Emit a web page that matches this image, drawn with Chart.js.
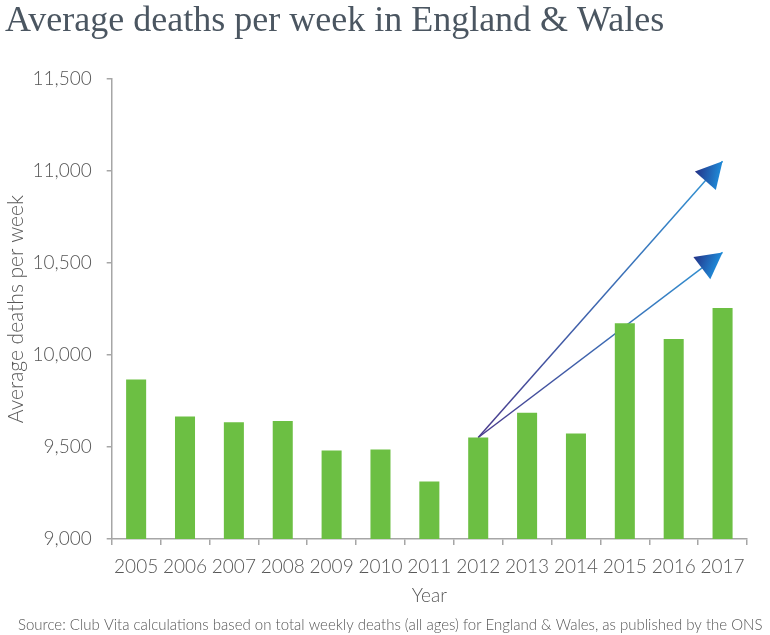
<!DOCTYPE html>
<html>
<head>
<meta charset="utf-8">
<script src="https://cdn.jsdelivr.net/npm/chart.js@4.4.1/dist/chart.umd.min.js"></script>
<style>
  html, body { margin: 0; padding: 0; background: #ffffff; }
  #wrap { width: 770px; height: 635px; }
</style>
</head>
<body>
<div id="wrap"><canvas id="c" width="770" height="635"></canvas></div>
<script>
// ---- Data ----
const years = ['2005','2006','2007','2008','2009','2010','2011','2012','2013','2014','2015','2016','2017'];
const avgDeaths = [9867, 9666, 9635, 9641, 9481, 9487, 9313, 9552, 9686, 9574, 10173, 10088, 10256];
// Projection arrows (from 2012 to 2017)
const upperArrow = [null, null, null, null, null, null, null, 9552, null, null, null, null, 11054];
const lowerArrow = [null, null, null, null, null, null, null, 9552, null, null, null, null, 10558];
const yTicks = [9000, 9500, 10000, 10500, 11000, 11500];

const titleText = 'Average deaths per week in England & Wales';
const sourceText = 'Source: Club Vita calculations based on total weekly deaths (all ages) for England & Wales, as published by the ONS';
const yTitle = 'Average deaths per week';
const xTitle = 'Year';

const TEXT = '#575757';
const AXIS = '#a6a6a6';
const SANS = 'Lato, "Open Sans", sans-serif';

function endPixels(chart, data) {
  const xs = chart.scales.x, ys = chart.scales.y;
  if (!xs || !ys) return null;
  const idx = [];
  data.forEach((v, i) => { if (v !== null) idx.push(i); });
  if (idx.length < 2) return null;
  const i0 = idx[0], i1 = idx[idx.length - 1];
  const a = { x: xs.getPixelForValue(i0), y: ys.getPixelForValue(data[i0]) };
  const b = { x: xs.getPixelForValue(i1), y: ys.getPixelForValue(data[i1]) };
  if (![a.x, a.y, b.x, b.y].every(Number.isFinite)) return null;
  return [a, b];
}

function lineGradient(ctx) {
  const chart = ctx.chart;
  const ds = chart.data.datasets[ctx.datasetIndex];
  const e = endPixels(chart, ds.data);
  if (!e) return '#3a6fb8';
  const g = chart.ctx.createLinearGradient(e[0].x, e[0].y, e[1].x, e[1].y);
  g.addColorStop(0, '#4a3a8c');
  g.addColorStop(1, '#2f95d5');
  return g;
}

const arrowHeads = {
  id: 'arrowHeads',
  afterDatasetsDraw(chart) {
    const ctx = chart.ctx;
    chart.data.datasets.forEach((ds) => {
      if (!ds.isArrow) return;
      const e = endPixels(chart, ds.data);
      if (!e) return;
      const p0 = e[0], p1 = e[1];
      const ang = Math.atan2(p1.y - p0.y, p1.x - p0.x);
      const L = 26, W = 14;
      const bx = p1.x - L * Math.cos(ang), by = p1.y - L * Math.sin(ang);
      const lx = bx + W * Math.sin(ang), ly = by - W * Math.cos(ang);
      const rx = bx - W * Math.sin(ang), ry = by + W * Math.cos(ang);
      const g = ctx.createLinearGradient(lx, ly, (p1.x + rx) / 2, (p1.y + ry) / 2);
      g.addColorStop(0, '#243186');
      g.addColorStop(1, '#1f87d5');
      ctx.save();
      ctx.beginPath();
      ctx.moveTo(p1.x, p1.y);
      ctx.lineTo(lx, ly);
      ctx.lineTo(rx, ry);
      ctx.closePath();
      ctx.fillStyle = g;
      ctx.fill();
      ctx.restore();
    });
  }
};

// Source note, drawn as real text in the reserved bottom band
const sourceNote = {
  id: 'sourceNote',
  afterDraw(chart) {
    const ctx = chart.ctx;
    ctx.save();
    ctx.font = '300 15px ' + SANS;
    ctx.fillStyle = TEXT;
    ctx.textAlign = 'left';
    ctx.textBaseline = 'middle';
    ctx.fillText(sourceText, 18, chart.height - 10);
    ctx.restore();
  }
};

new Chart(document.getElementById('c'), {
  type: 'bar',
  data: {
    labels: years,
    datasets: [
      {
        type: 'bar',
        data: avgDeaths,
        backgroundColor: '#6cbf43',
        borderWidth: 0,
        barPercentage: 0.41,
        categoryPercentage: 1.0,
        order: 0
      },
      {
        type: 'line',
        isArrow: true,
        data: upperArrow,
        spanGaps: true,
        borderColor: lineGradient,
        borderWidth: 1.5,
        pointRadius: 0,
        fill: false,
        order: 1
      },
      {
        type: 'line',
        isArrow: true,
        data: lowerArrow,
        spanGaps: true,
        borderColor: lineGradient,
        borderWidth: 1.5,
        pointRadius: 0,
        fill: false,
        order: 1
      }
    ]
  },
  options: {
    responsive: false,
    animation: false,
    layout: { padding: { left: 5, right: 23, top: 0, bottom: 18 } },
    plugins: {
      legend: { display: false },
      tooltip: { enabled: false },
      title: {
        display: true,
        text: titleText,
        align: 'start',
        color: '#4b5661',
        font: { family: '"Liberation Serif", serif', size: 36, weight: 'normal', lineHeight: 1.2 },
        padding: { top: 0, bottom: 36 }
      }
    },
    scales: {
      x: {
        type: 'category',
        offset: true,
        afterFit(scale) { scale.height = 78; },
        grid: { display: true, drawOnChartArea: false, offset: true, color: AXIS, tickLength: 6, lineWidth: 1.5 },
        border: { display: true, color: AXIS, width: 1.5 },
        ticks: { color: TEXT, font: { family: SANS, size: 19, weight: '300' }, padding: 10, maxRotation: 0, autoSkip: false },
        title: { display: true, text: xTitle, color: TEXT, font: { family: SANS, size: 19, weight: '300' }, padding: { top: 0, bottom: 10 } }
      },
      y: {
        min: yTicks[0],
        max: yTicks[yTicks.length - 1],
        afterBuildTicks(scale) { scale.ticks = yTicks.map(v => ({ value: v })); },
        afterFit(scale) { scale.width = 106.7; },
        grid: { display: true, drawOnChartArea: false, color: AXIS, tickLength: 5, lineWidth: 1.5 },
        border: { display: true, color: AXIS, width: 1.5 },
        ticks: {
          color: TEXT,
          font: { family: SANS, size: 19, weight: '300' },
          padding: 15,
          callback: v => Number(v).toLocaleString('en-US')
        },
        title: { display: true, text: yTitle, color: TEXT, font: { family: SANS, size: 21, weight: '300', lineHeight: 1.1 }, padding: { top: 0, bottom: 0 } }
      }
    }
  },
  plugins: [arrowHeads, sourceNote]
});
</script>
</body>
</html>
